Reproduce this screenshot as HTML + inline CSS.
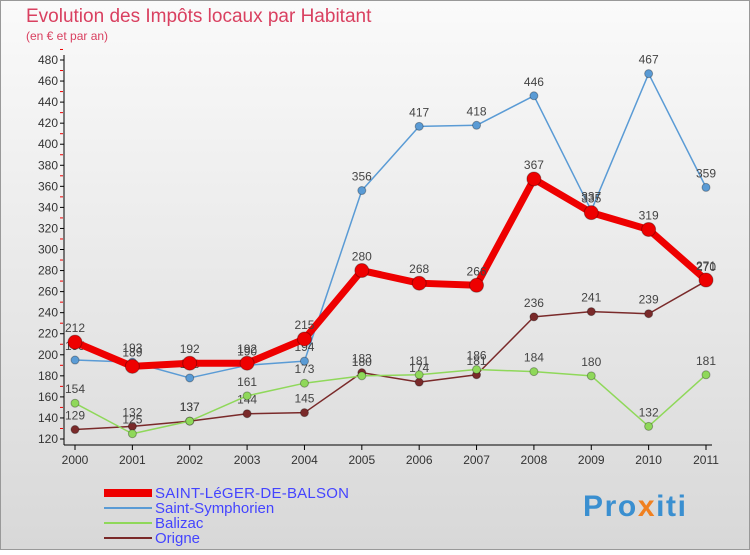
<!DOCTYPE html>
<html><head><meta charset="utf-8"><style>
body{margin:0;width:750px;height:550px;overflow:hidden;font-family:"Liberation Sans",sans-serif}
</style></head><body>
<svg width="750" height="550" xmlns="http://www.w3.org/2000/svg">
<defs><linearGradient id="bg" x1="0" y1="0" x2="0" y2="1"><stop offset="0" stop-color="#fafafa"/><stop offset="1" stop-color="#d8d8d8"/></linearGradient></defs>
<rect x="0.5" y="0.5" width="749" height="549" fill="url(#bg)" stroke="#999"/>
<text x="26" y="22" font-size="19" fill="#d94060">Evolution des Impôts locaux par Habitant</text>
<text x="26" y="40" font-size="12" fill="#d94060">(en € et par an)</text>
<g id="axes"></g><g id="series"></g>
<g>
<line x1="104" y1="493" x2="152" y2="493" stroke="#e00" stroke-width="8"/>
<text x="155" y="498" font-size="15" fill="#44f" textLength="194">SAINT-LéGER-DE-BALSON</text>
<line x1="104" y1="508" x2="152" y2="508" stroke="#5a9bd5" stroke-width="2"/>
<text x="155" y="513" font-size="15" fill="#44f">Saint-Symphorien</text>
<line x1="104" y1="523" x2="152" y2="523" stroke="#8fd85a" stroke-width="2"/>
<text x="155" y="528" font-size="15" fill="#44f">Balizac</text>
<line x1="104" y1="538" x2="152" y2="538" stroke="#7a2a2a" stroke-width="2"/>
<text x="155" y="543" font-size="15" fill="#44f">Origne</text>
</g>
<text x="583" y="516" font-size="30" font-weight="bold" fill="#3a8fd0" textLength="103">Pro<tspan fill="#f08020">x</tspan>iti</text>
</svg>
<script>
const years=["2000","2001","2002","2003","2004","2005","2006","2007","2008","2009","2010","2011"];
const yTicks=[120,140,160,180,200,220,240,260,280,300,320,340,360,380,400,420,440,460,480];
const saintLeger=[212,189,192,192,215,280,268,266,367,335,319,271];
const saintSymphorien=[195,193,178,190,194,356,417,418,446,337,467,359];
const balizac=[154,125,137,161,173,180,181,186,184,180,132,181];
const origne=[129,132,137,144,145,183,174,181,236,241,239,270];
const NS="http://www.w3.org/2000/svg";
const X=i=>75+i*(706-75)/11;
const Y=v=>439-(v-120)*(379/360);
function mk(t,a,p){const e=document.createElementNS(NS,t);for(const k in a)e.setAttribute(k,a[k]);p.appendChild(e);return e;}
const ax=document.getElementById('axes');
const yl=mk('line',{x1:64,y1:55,x2:64,y2:445,stroke:'#000'},ax);


const xl=mk('line',{x1:64,y1:445,x2:712,y2:445,stroke:'#000'},ax);


yTicks.forEach(v=>{
  mk('line',{x1:60,y1:Y(v),x2:64,y2:Y(v),stroke:'#000'},ax);
  mk('line',{x1:60,y1:Y(v+10),x2:63,y2:Y(v+10),stroke:'#e00'},ax);
  const t=mk('text',{x:58,y:Y(v)+4,'text-anchor':'end','font-size':12,fill:'#333'},ax);
  t.textContent=v;
  
  
});
years.forEach((y,i)=>{
  mk('line',{x1:X(i),y1:445,x2:X(i),y2:450,stroke:'#000'},ax);
  const t=mk('text',{x:X(i),y:464,'text-anchor':'middle','font-size':12,fill:'#333'},ax);
  t.textContent=y;
  
  
});
const sg=document.getElementById('series');
function draw(vals,color,w,r,name){
  const g=mk('g',{},sg);
  
  
  mk('polyline',{points:vals.map((v,i)=>X(i)+','+Y(v)).join(' '),fill:'none',stroke:color,'stroke-width':w,'stroke-linejoin':'round'},g);
  vals.forEach((v,i)=>{
    const c=mk('circle',{cx:X(i),cy:Y(v),r:r,fill:color,stroke:'rgba(0,0,0,0.3)'},g);
    
    
    const t=mk('text',{x:X(i),y:Y(v)-10,'text-anchor':'middle','font-size':12,fill:'#444'},g);
    t.textContent=v;
    
    
  });
}
draw(origne,'#7a2a2a',1.5,4,'origne-series');
draw(balizac,'#8fd85a',1.5,4,'balizac-series');
draw(saintSymphorien,'#5a9bd5',1.5,4,'saint-symphorien-series');
draw(saintLeger,'#e00',7,7,'saint-leger-series');
</script>
</body></html>
